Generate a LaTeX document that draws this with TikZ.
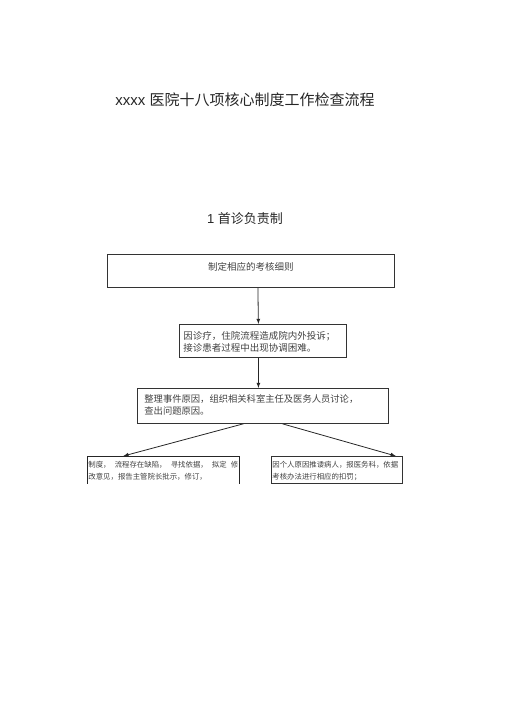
\documentclass[tikz,border=0pt]{standalone}
\usepackage{fontspec}
\setmainfont{Liberation Sans}
\newfontfamily\cjk{Noto Sans CJK SC}
\pgfdeclarelayer{edgelayer}
\pgfdeclarelayer{nodelayer}
\pgfsetlayers{edgelayer,nodelayer,main}
\tikzstyle{heading}=[text=black!85]
\tikzstyle{box}=[draw=black!80,line width=0.8pt,anchor=north west,align=left,inner ysep=0pt,text=black!75]
\tikzstyle{openbox}=[box,draw=none]
\tikzstyle{boxline}=[draw=black!85,line width=0.8pt]
\tikzstyle{transition}=[-latex,draw=black!85,line width=0.8pt]

\begin{document}
\begin{tikzpicture}[x=1pt,y=-1pt]
	\useasboundingbox (0,0) rectangle (505,714);
	\begin{pgfonlayer}{nodelayer}
		\node [style=heading, font=\fontsize{15}{18}\selectfont] (0) at (245, 100) {xxxx {\cjk 医院十八项核心制度工作检查流程}};
		\node [style=heading, font=\fontsize{13}{16}\selectfont] (1) at (245, 219) {1 {\cjk 首诊负责制}};
		\node [style=box, align=center, text width=287pt, inner xsep=0pt, text height=16pt, text depth=17pt, font=\cjk\fontsize{9.5}{11.5}\selectfont] (2) at (107, 254) {制定相应的考核细则};
		\node [style=box, text width=159pt, inner xsep=4pt, text height=15.5pt, text depth=17.5pt, font=\cjk\fontsize{9.5}{11.5}\selectfont] (3) at (179, 324) {因诊疗，住院流程造成院内外投诉；\\接诊患者过程中出现协调困难。};
		\node [style=box, text width=237pt, inner xsep=7pt, text height=14.5pt, text depth=20.5pt, font=\cjk\fontsize{9.3}{12}\selectfont] (4) at (137, 388) {整理事件原因，组织相关科室主任及医务人员讨论，\\查出问题原因。};
		\node [style=openbox, text width=150pt, inner xsep=1pt, text height=11pt, text depth=16pt, font=\cjk\fontsize{7.4}{12}\selectfont] (5) at (87, 456) {制度，\hfill 流程存在缺陷，\hfill 寻找依据，\hfill 拟定\hfill 修\\改意见，报告主管院长批示，修订，};
		\node [style=box, text width=129pt, inner xsep=1pt, text height=11pt, text depth=16pt, font=\cjk\fontsize{7.4}{12}\selectfont] (6) at (271, 456) {因个人原因推诿病人，报医务科，依据\\考核办法进行相应的扣罚；};
	\end{pgfonlayer}
	\begin{pgfonlayer}{edgelayer}
		\draw [style=boxline] (5.south west) -- (5.north west) -- (5.north east) -- (5.south east);
		\draw [style=transition] ([xshift=7pt]2.south) to ([xshift=-4.5pt]3.north);
		\draw [style=transition] ([xshift=-4.5pt]3.south) to ([xshift=-4.5pt]4.north);
		\draw [style=transition] ([xshift=-19.5pt]4.south) to ([xshift=-40pt]5.north);
		\draw [style=transition] ([xshift=19.5pt]4.south) to ([xshift=-7pt]6.north east);
	\end{pgfonlayer}
\end{tikzpicture}
\end{document}
